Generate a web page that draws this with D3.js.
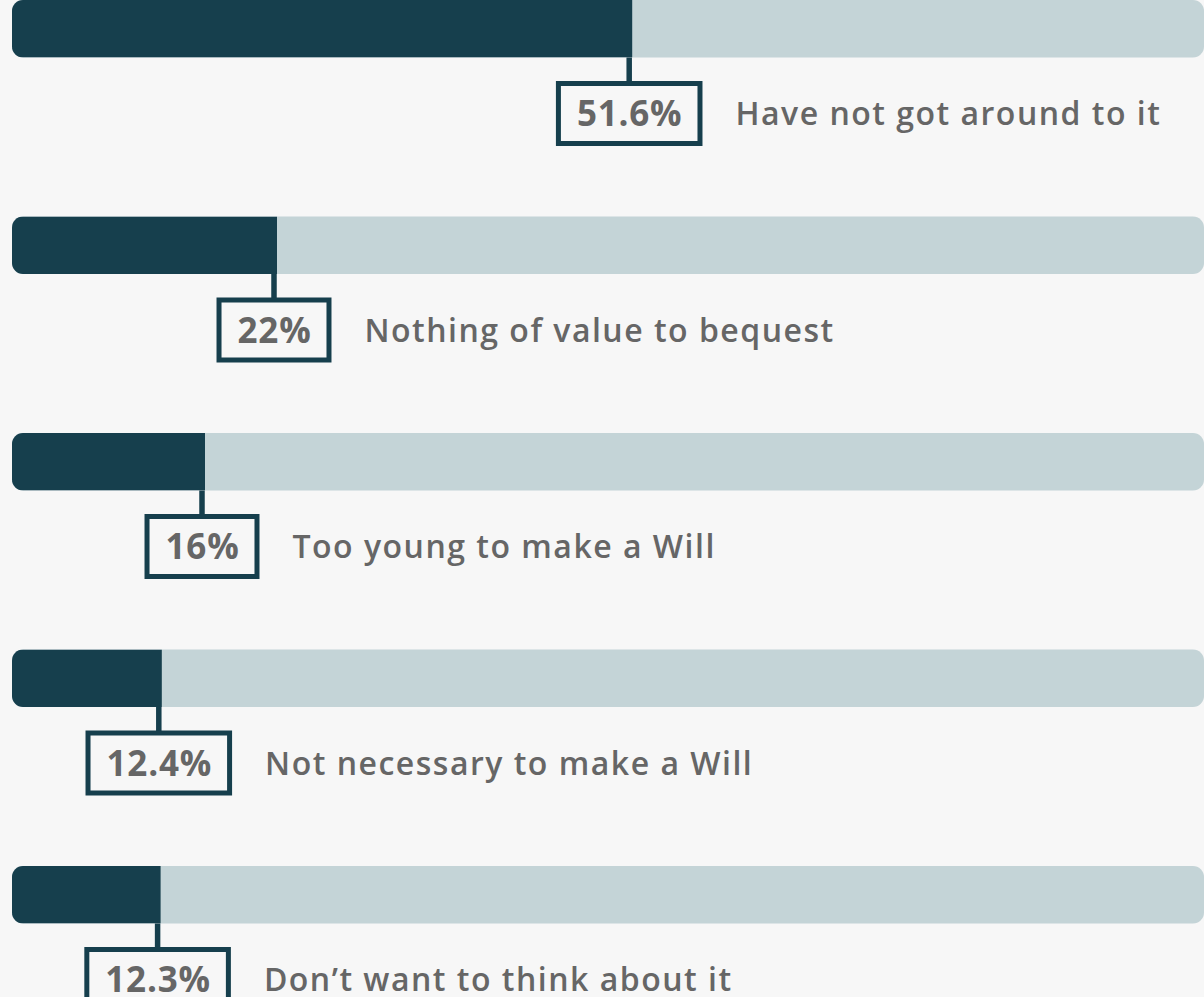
<!DOCTYPE html>
<html>
<head>
<meta charset="utf-8">
<script src="https://cdn.jsdelivr.net/npm/d3@7"></script>
<style>
  html, body { margin: 0; padding: 0; background: #f7f7f7; }
  svg { display: block; }
  .label { font-family: 'Open Sans', sans-serif; font-weight: 600; fill: #666; letter-spacing: 1.5px; }
  .value { font-family: 'Open Sans', sans-serif; font-weight: 700; fill: #666; letter-spacing: 0.8px; }
</style>
</head>
<body>
<div id="chart"></div>
<script>
const reasons = [
  'Have not got around to it',
  'Nothing of value to bequest',
  'Too young to make a Will',
  'Not necessary to make a Will',
  'Don\u2019t want to think about it'
]
const shares = [51.6, 22, 16, 12.4, 12.3]
const shareLabels = ['51.6%', '22%', '16%', '12.4%', '12.3%']

const width = 1204
const height = 997
const dark = '#163f4d'
const light = '#c4d4d7'

const rows = reasons.map((r, i) => ({ reason: r, value: shares[i], text: shareLabels[i], i }))

const x = d3.scaleLinear().domain([0, 100]).range([13, 1213])
const step = 216.5
const barH = 57.5
const pad = 1 - barH / step
const y = d3.scaleBand()
  .domain(reasons)
  .range([0, step * (reasons.length - pad)])
  .paddingInner(pad)
  .paddingOuter(0)

const svg = d3.select('#chart').append('svg')
  .attr('width', width)
  .attr('height', height)

const defs = svg.append('defs')
defs.selectAll('clipPath')
  .data(rows)
  .enter()
  .append('clipPath')
  .attr('id', d => 'track' + d.i)
  .append('rect')
  .attr('x', 12)
  .attr('y', d => y(d.reason))
  .attr('width', width - 12)
  .attr('height', y.bandwidth())
  .attr('rx', 11)

const row = svg.selectAll('g.row')
  .data(rows)
  .enter()
  .append('g')
  .attr('class', 'row')

// track
row.append('rect')
  .attr('x', 12)
  .attr('y', d => y(d.reason))
  .attr('width', width - 12)
  .attr('height', y.bandwidth())
  .attr('rx', 11)
  .attr('fill', light)

// value bar, clipped so only the left end is rounded
row.append('rect')
  .attr('clip-path', d => `url(#track${d.i})`)
  .attr('x', 0)
  .attr('y', d => y(d.reason))
  .attr('width', d => x(d.value))
  .attr('height', y.bandwidth())
  .attr('fill', dark)

const gap = 23.5
const boxH = 65
const stroke = 5

// leader line
row.append('line')
  .attr('x1', d => x(d.value) - 3)
  .attr('x2', d => x(d.value) - 3)
  .attr('y1', d => y(d.reason) + y.bandwidth())
  .attr('y2', d => y(d.reason) + y.bandwidth() + gap + stroke / 2)
  .attr('stroke', dark)
  .attr('stroke-width', 5.5)

const box = row.append('rect')
  .attr('fill', '#f7f7f7')
  .attr('stroke', dark)
  .attr('stroke-width', stroke)

const value = row.append('text')
  .attr('class', 'value')
  .attr('font-size', 35)
  .attr('text-anchor', 'middle')
  .attr('x', d => x(d.value) - 2.5)
  .attr('y', d => y(d.reason) + y.bandwidth() + gap + boxH / 2 + 12.5)
  .text(d => d.text)

value.each(function (d) { d.tw = this.getComputedTextLength() })

box
  .attr('x', d => x(d.value) - 3 - d.tw / 2 - 18)
  .attr('y', d => y(d.reason) + y.bandwidth() + gap + stroke / 2)
  .attr('width', d => d.tw + 36)
  .attr('height', boxH - stroke)

row.append('text')
  .attr('class', 'label')
  .attr('font-size', 32)
  .attr('x', d => x(d.value) - 3 + d.tw / 2 + 20.5 + 33)
  .attr('y', d => y(d.reason) + y.bandwidth() + gap + boxH / 2 + 11.5)
  .text(d => d.reason)
</script>
</body>
</html>
